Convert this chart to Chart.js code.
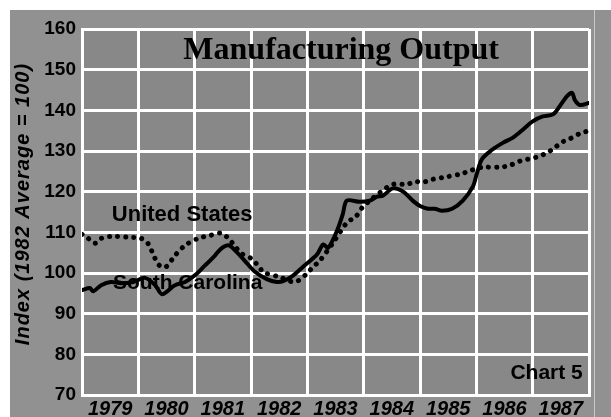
<!DOCTYPE html>
<html>
<head>
<meta charset="utf-8">
<style>
  html, body { margin: 0; padding: 0; background: #fff; }
  #wrap { width: 611px; height: 417px; }
</style>
<script src="https://cdn.jsdelivr.net/npm/chart.js@4/dist/chart.umd.min.js"></script>
</head>
<body>
<div id="wrap"><canvas id="mfgChart" width="611" height="417"></canvas></div>
<script>
'use strict';

// decimal years
const usYears = [1979.00, 1979.07, 1979.23, 1979.34, 1979.51, 1979.82, 1980.05, 1980.17, 1980.30, 1980.38,
    1980.49, 1980.65, 1980.83, 1981.06, 1981.29, 1981.47, 1981.60, 1981.72, 1981.83, 1982.01,
    1982.17, 1982.21, 1982.51, 1982.78, 1982.99, 1983.10, 1983.22, 1983.45, 1983.72, 1983.84,
    1983.97, 1984.11, 1984.29, 1984.52, 1984.77, 1984.91, 1985.05, 1985.21, 1985.41, 1985.71,
    1985.92, 1986.10, 1986.42, 1986.60, 1986.77, 1987.07, 1987.25, 1987.36, 1987.54, 1987.66,
    1987.84, 1988.00];
const usValues = [109.5, 109.0, 107.3, 108.5, 109.0, 108.8, 108.5, 107.3, 103.5, 101.8,
    101.5, 104.3, 106.8, 108.5, 109.3, 109.8, 108.5, 106.5, 104.8, 103.5,
    101.0, 100.2, 99.0, 97.8, 99.8, 101.5, 103.0, 107.3, 112.7, 113.5,
    116.0, 117.8, 119.8, 121.8, 121.8, 122.5, 122.3, 123.0, 123.5, 124.3,
    125.3, 126.0, 126.0, 126.5, 127.5, 128.5, 129.5, 130.5, 132.3, 133.0,
    134.3, 135.0];

const scYears = [1979.00, 1979.14, 1979.20, 1979.34, 1979.51, 1979.69, 1979.91, 1980.12, 1980.30, 1980.42,
    1980.65, 1980.83, 1981.01, 1981.18, 1981.36, 1981.47, 1981.60, 1981.72, 1981.89, 1982.07,
    1982.28, 1982.46, 1982.57, 1982.74, 1982.92, 1983.17, 1983.28, 1983.37, 1983.53, 1983.63,
    1983.70, 1983.93, 1984.11, 1984.24, 1984.34, 1984.52, 1984.70, 1984.87, 1985.00, 1985.14,
    1985.26, 1985.39, 1985.57, 1985.76, 1985.94, 1986.01, 1986.10, 1986.28, 1986.47, 1986.65,
    1986.83, 1987.00, 1987.18, 1987.36, 1987.48, 1987.61, 1987.70, 1987.75, 1987.84, 1988.00];
const scValues = [95.8, 96.3, 95.5, 97.0, 97.8, 97.5, 97.8, 98.8, 97.0, 94.8,
    97.0, 97.8, 99.5, 101.8, 104.3, 106.0, 106.8, 105.5, 103.0, 100.3,
    98.5, 97.8, 98.0, 99.3, 101.5, 104.5, 107.0, 106.2, 110.5, 114.5,
    117.8, 117.5, 117.8, 118.8, 119.0, 120.8, 120.0, 117.8, 116.5, 115.8,
    115.8, 115.3, 115.8, 117.8, 121.3, 124.5, 128.0, 130.3, 132.0, 133.3,
    135.3, 137.3, 138.5, 139.0, 141.0, 143.5, 144.3, 142.5, 141.3, 141.8];

const yearLabels = ['1979', '1980', '1981', '1982', '1983', '1984', '1985', '1986', '1987'];
const yTicks = [70, 80, 90, 100, 110, 120, 130, 140, 150, 160];
const yTitle = 'Index (1982 Average = 100)';

const sansFont = '"Liberation Sans", Arial, sans-serif';

// text placed in data units
const notes = [
    { text: 'Manufacturing Output', x: 1983.6, y: 154.6, font: 'bold 32px "Liberation Serif", "Times New Roman", serif', align: 'center' },
    { text: 'United States', x: 1979.53, y: 114.3, font: 'bold 22px ' + sansFont, align: 'left' },
    { text: 'South Carolina', x: 1979.55, y: 97.6, font: 'bold 21px ' + sansFont, align: 'left' },
    { text: 'Chart 5', x: 1987.89, y: 75.3, font: 'bold 21px ' + sansFont, align: 'right' }
];

function toPoints(xs, ys) {
    return xs.map(function (x, i) { return { x: x, y: ys[i] }; });
}

const paperPlugin = {
    id: 'paper',
    beforeDraw: function (chart) {
        const ctx = chart.ctx;
        ctx.save();
        ctx.fillStyle = '#ffffff';
        ctx.fillRect(0, 0, chart.width, chart.height);
        ctx.fillStyle = '#919191';
        ctx.fillRect(10, 10, chart.width - 10, chart.height - 10);
        const a = chart.chartArea;
        ctx.fillStyle = '#888888';
        ctx.fillRect(a.left, a.top, a.right - a.left, a.bottom - a.top);
        ctx.strokeStyle = '#c8c8c8';
        ctx.lineWidth = 1;
        ctx.beginPath();
        ctx.moveTo(a.right + 5.5, 10);
        ctx.lineTo(a.right + 5.5, chart.height);
        ctx.stroke();
        ctx.restore();
    }
};

const notesPlugin = {
    id: 'notes',
    afterDatasetsDraw: function (chart) {
        const ctx = chart.ctx;
        const xs = chart.scales.x, ys = chart.scales.y;
        ctx.save();
        ctx.fillStyle = '#000';
        ctx.textBaseline = 'middle';
        notes.forEach(function (n) {
            ctx.font = n.font;
            ctx.textAlign = n.align;
            ctx.fillText(n.text, xs.getPixelForValue(n.x), ys.getPixelForValue(n.y));
        });
        // axis title, rotated
        ctx.translate(23, 204);
        ctx.rotate(-Math.PI / 2);
        ctx.font = 'italic bold 20px ' + sansFont;
        ctx.letterSpacing = '1px';
        ctx.textAlign = 'center';
        ctx.fillText(yTitle, 0, 0);
        ctx.restore();
    }
};

new Chart('mfgChart', {
    type: 'line',
    data: {
        datasets: [{
            label: 'South Carolina',
            data: toPoints(scYears, scValues),
            borderColor: '#000',
            borderWidth: 4,
            borderJoinStyle: 'round',
            borderCapStyle: 'round',
            pointRadius: 0,
            tension: 0.3,
            fill: false
        }, {
            label: 'United States',
            data: toPoints(usYears, usValues),
            borderColor: '#000',
            borderWidth: 5,
            borderDash: [0.1, 8],
            borderCapStyle: 'round',
            pointRadius: 0,
            tension: 0.3,
            fill: false
        }]
    },
    options: {
        responsive: false,
        animation: false,
        layout: { padding: { left: 0, top: 29, right: 22, bottom: 0 } },
        plugins: {
            legend: { display: false },
            tooltip: { enabled: false }
        },
        scales: {
            x: {
                type: 'linear',
                min: 1979,
                max: 1988,
                afterBuildTicks: function (scale) {
                    const t = [];
                    yearLabels.forEach(function (y, i) {
                        t.push({ value: 1979 + i });
                        t.push({ value: 1979 + i + 0.5 });
                    });
                    t.push({ value: 1988 });
                    scale.ticks = t;
                },
                afterFit: function (scale) { scale.height = 22; },
                grid: {
                    color: function (c) {
                        return c.tick && Number.isInteger(c.tick.value) ? '#ffffff' : 'rgba(0,0,0,0)';
                    },
                    lineWidth: 3,
                    drawTicks: false
                },
                border: { display: true, color: '#ffffff', width: 3 },
                ticks: {
                    autoSkip: false,
                    maxRotation: 0,
                    padding: 2,
                    color: '#000',
                    font: { family: sansFont, size: 20, weight: 'bold', style: 'italic' },
                    callback: function (v) {
                        if (Number.isInteger(v)) return '';
                        return yearLabels[Math.floor(v) - 1979];
                    }
                }
            },
            y: {
                min: 70,
                max: 160,
                afterBuildTicks: function (scale) {
                    scale.ticks = yTicks.map(function (v) { return { value: v }; });
                },
                afterFit: function (scale) { scale.width = 82; },
                grid: { color: '#ffffff', lineWidth: 3, drawTicks: false },
                border: { display: true, color: '#ffffff', width: 3 },
                ticks: {
                    padding: 6,
                    color: '#000',
                    font: { family: sansFont, size: 19, weight: 'bold' }
                }
            }
        }
    },
    plugins: [paperPlugin, notesPlugin]
});
</script>
</body>
</html>
